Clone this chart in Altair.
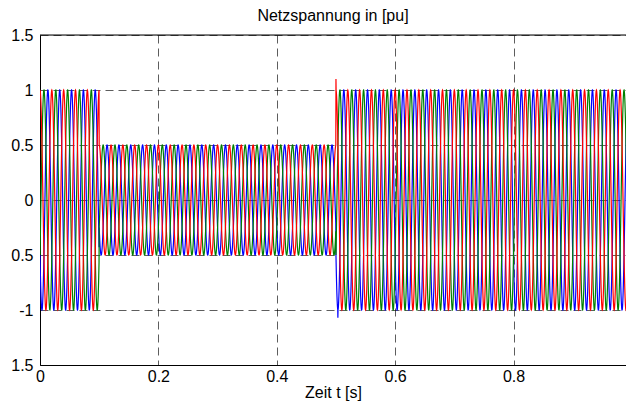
import numpy as np
import pandas as pd
import altair as alt

alt.data_transformers.disable_max_rows()

# ---- values ----
freq_hz = 50.0
sample_rate = 4000
t_end = 1.0
seg_start = [0.0, 0.1, 0.5]
seg_end = [0.1, 0.5, 1.0]
seg_amp = [1.0, 0.5, 1.0]
phases = ["b", "g", "r"]            # drawing order (red on top)
phase_shift_deg = [120.0, -120.0, 0.0]
phase_colors = ["#0000ff", "#008000", "#ff0000"]
# switching transients at t = 0.5 s
spike_t = [0.5033, None, 0.5]
spike_v = [-1.07, None, 1.10]

x_domain = [0, 0.99]
x_ticks = [0, 0.2, 0.4, 0.6, 0.8]
y_ticks = [-1.5, -1, -0.5, 0, 0.5, 1, 1.5]
y_tick_text = ["1.5", "-1", "0.5", "0", "0.5", "1", "1.5"]  # as shown (minus signs clipped)

# ---- build table ----
t = np.arange(0, t_end, 1.0 / sample_rate)
amp = np.zeros_like(t)
for s, e, a in zip(seg_start, seg_end, seg_amp):
    amp[(t >= s) & (t < e)] = a

frames = []
for name, sh, st, sv in zip(phases, phase_shift_deg, spike_t, spike_v):
    v = amp * np.cos(2 * np.pi * freq_hz * t + np.deg2rad(sh))
    if st is not None:
        i = int(round(st * sample_rate))
        v[i] = sv
    frames.append(pd.DataFrame({"t": t, "v": v, "phase": name}))
df = pd.concat(frames, ignore_index=True)

label_map = ", ".join(f"'{v}': '{s}'" for v, s in zip(y_ticks, y_tick_text))
y_label_expr = f"({{{label_map}}})[toString(datum.value)] || datum.label"
# simpler explicit expression (keys of -1 etc. as numbers)
conds = " : ".join(f"datum.value == {v} ? '{s}'" for v, s in zip(y_ticks, y_tick_text))
y_label_expr = conds + " : datum.label"

FONT = "Liberation Sans"
FS = 16
GRID = dict(grid=True, gridDash=[8, 5], gridColor="#000000",
            gridOpacity=0.8, gridWidth=0.8)

x_enc = alt.X(
    "t:Q",
    scale=alt.Scale(domain=x_domain, nice=False, zero=False),
    axis=alt.Axis(
        values=x_ticks, format="~g", title="Zeit t [s]", **GRID,
        domain=True, domainColor="#000000", domainWidth=1,
        ticks=False, labelPadding=3, titlePadding=0, labelFlush=False,
        labelFontSize=FS, titleFontSize=FS, labelFont=FONT, titleFont=FONT,
        labelColor="#000000", titleColor="#000000", titleFontWeight="normal",
    ),
)
y_enc = alt.Y(
    "v:Q",
    scale=alt.Scale(domain=[-1.5, 1.5], nice=False, zero=False),
    axis=alt.Axis(
        values=y_ticks, title=None, **GRID,
        domain=True, domainColor="#000000", domainWidth=1,
        ticks=False, labelPadding=7, labelFlush=False,
        labelFontSize=FS, labelFont=FONT, labelColor="#000000",
        labelExpr=y_label_expr,
    ),
)

layers = []
for name, col in zip(phases, phase_colors):
    layers.append(
        alt.Chart(df)
        .transform_filter(alt.datum.phase == name)
        .mark_line(color=col, strokeWidth=1.2, clip=True)
        .encode(x=x_enc, y=y_enc)
    )

top_border = alt.Chart().mark_rule(color="#000000", strokeWidth=1).encode(
    y=alt.value(0)
)

chart = (
    alt.layer(*layers, top_border)
    .properties(
        width=586,
        height=330,
        title=alt.Title("Netzspannung in [pu]", fontSize=FS, font=FONT,
                        fontWeight="normal", color="#000000", offset=3),
        padding={"left": 32, "top": 27, "right": 0, "bottom": 37},
        autosize=alt.AutoSizeParams(type="none"),
    )
    .configure_view(stroke=None)
    .configure(background="#ffffff")
)

chart.save("out.html", embed_options={"renderer": "svg", "actions": False})
